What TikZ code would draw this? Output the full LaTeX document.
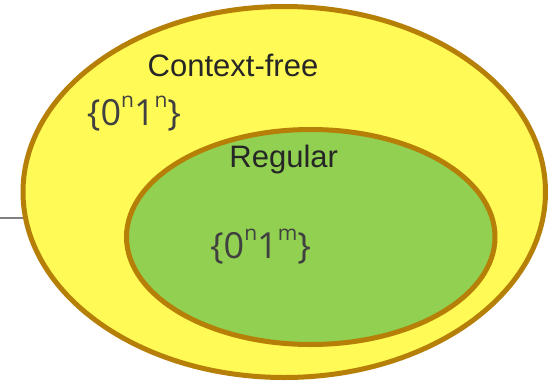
\documentclass[tikz,border=0pt]{standalone}
\usepackage{fontspec}
\setmainfont{Liberation Sans}
\newfontfamily\setfont{Open Sans}
\usetikzlibrary{shapes.geometric}
\definecolor{rim}{RGB}{182,127,8}
\definecolor{cfyellow}{RGB}{255,250,85}
\definecolor{reggreen}{RGB}{145,208,80}
\definecolor{labeltext}{RGB}{38,38,38}
\definecolor{settext}{RGB}{64,64,64}
\newcommand{\supsc}[1]{\raisebox{0.5em}{\fontsize{21}{21}\selectfont #1}}
\tikzset{
  langset/.style={ellipse, draw=rim, line width=5pt, inner sep=0pt, outer sep=0pt},
  langname/.style={font=\fontsize{31}{31}\selectfont, text=labeltext, anchor=base, inner sep=0pt},
  setlabel/.style={font=\setfont\fontsize{36}{36}\selectfont, text=settext, anchor=base, inner sep=0pt},
  sideline/.style={draw={rgb,255:red,128;green,128;blue,128}, line width=1.5pt}
}
\begin{document}
\begin{tikzpicture}[x=1pt,y=-1pt]
\useasboundingbox (0,0) rectangle (552,386);
\coordinate (lstart) at (0,218);
\coordinate (lend) at (30,218);
\draw[sideline] (lstart) -- (lend);
\node[langset, fill=cfyellow, minimum width=522.5pt, minimum height=371pt] (cf) at (284.25,192) {};
\node[langset, fill=reggreen, minimum width=368.5pt, minimum height=215pt] (reg) at (310.75,237) {};
\node[langname] (cfname) at (233,76.5) {Context-free};
\node[langname] (regname) at (283.7,167) {Regular};
\node[setlabel] (cfset) at (134,125) {\{0\supsc{n}1\supsc{n}\}};
\node[setlabel] (regset) at (260.5,258) {\{0\supsc{n}1\supsc{m}\}};
\end{tikzpicture}
\end{document}
